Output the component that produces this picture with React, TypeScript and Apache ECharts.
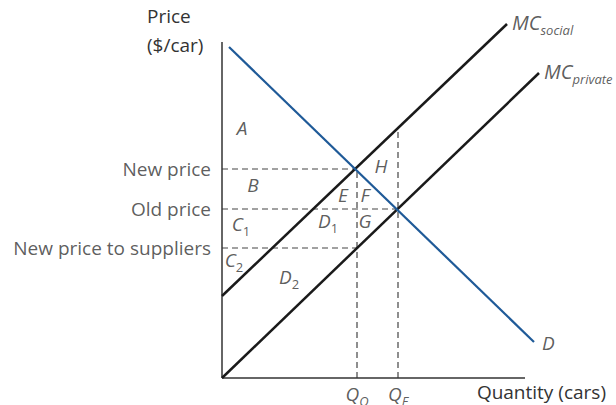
import React, { useEffect, useRef } from "react";
import * as echarts from "echarts";

// ---- data (units: horizontal = quantity, vertical = price) ----
const demandLine = [[7, 331], [312, 36]];
const mcSocialLine = [[0, 82], [285, 354]];
const mcPrivateLine = [[0, 0], [317, 305]];
const yAxisLine = [[0, 0], [0, 336]];
const xAxisLine = [[0, 0], [303, 0]];

const priceLabels = ["New price", "Old price", "New price to suppliers"];
const priceLevels = [209, 169, 130];
const priceDashEnd = [133, 176, 135];

const quantitySubs = ["O", "F"];
const quantityLevels = [135, 176];
const quantityDashTop = [209, 250];

const regionNames = ["A", "B", "C|1", "C|2", "D|2", "E", "F", "D|1", "G", "H"];
const regionPos = [
  [20, 248], [31, 191], [19, 152], [12, 116], [67, 99],
  [121, 181], [143, 181], [106, 155], [143, 155], [159, 210],
];

const FONT = "Open Sans";
const TXT = "#333";

export default function App() {
  const ref = useRef<HTMLDivElement>(null);
  useEffect(() => {
    if (!ref.current) return;
    const chart = echarts.init(ref.current, undefined, { renderer: "svg" });

    const solid = (data: number[][], color: string, width: number) => ({
      type: "line",
      data,
      symbol: "none",
      silent: true,
      clip: false,
      lineStyle: { color, width },
      z: 3,
    });
    const dashed = (data: number[][]) => ({
      type: "line",
      data,
      symbol: "none",
      silent: true,
      clip: false,
      lineStyle: { color: "#444", width: 1.2, type: [6, 4] },
      z: 2,
    });

    const rich = {
      m: { fontFamily: FONT, fontSize: 19, fontStyle: "italic", color: TXT, verticalAlign: "bottom", padding: [0, 0, 4, 0] },
      s: { fontFamily: FONT, fontSize: 13, fontStyle: "italic", color: TXT, verticalAlign: "bottom" },
      n: { fontFamily: FONT, fontSize: 13, color: TXT, verticalAlign: "bottom" },
      big: { fontFamily: FONT, fontSize: 20, fontStyle: "italic", color: TXT, verticalAlign: "bottom", padding: [0, 0, 4, 0] },
    };

    const series: any[] = [
      solid(yAxisLine, "#333", 1.5),
      solid(xAxisLine, "#333", 1.5),
    ];
    priceLevels.forEach((p, i) => series.push(dashed([[0, p], [priceDashEnd[i], p]])));
    quantityLevels.forEach((q, i) => series.push(dashed([[q, 0], [q, quantityDashTop[i]]])));
    series.push(solid(mcSocialLine, "#1a1a1a", 2.5));
    series.push(solid(mcPrivateLine, "#1a1a1a", 2.5));
    series.push(solid(demandLine, "#1f5a98", 2.2));

    // price level labels
    series.push({
      type: "scatter",
      symbolSize: 0,
      silent: true,
      clip: false,
      data: priceLevels.map((p, i) => ({ value: [0, p], name: priceLabels[i] })),
      label: {
        show: true,
        position: "left",
        distance: 11,
        formatter: (d: any) => d.name,
        fontFamily: FONT,
        fontSize: 19,
        color: TXT,
      },
    });
    // quantity labels
    series.push({
      type: "scatter",
      symbolSize: 0,
      silent: true,
      clip: false,
      data: quantityLevels.map((q, i) => ({ value: [q, 0], name: quantitySubs[i] })),
      label: {
        show: true,
        position: "bottom",
        distance: 6,
        formatter: (d: any) => `{m|Q}{s|${d.name}}`,
        rich,
      },
    });
    // region labels
    series.push({
      type: "scatter",
      symbolSize: 0,
      silent: true,
      clip: false,
      data: regionPos.map((p, i) => ({ value: p, name: regionNames[i] })),
      label: {
        show: true,
        position: "inside",
        formatter: (d: any) => {
          const [a, b] = d.name.split("|");
          return b ? `{m|${a}}{n|${b}}` : `{m|${a}}`;
        },
        rich,
      },
    });
    // curve labels
    series.push({
      type: "scatter",
      symbolSize: 0,
      silent: true,
      clip: false,
      data: [
        { value: mcSocialLine[1], name: "social" },
        { value: mcPrivateLine[1], name: "private" },
      ],
      label: {
        show: true,
        position: "right",
        distance: 5,
        formatter: (d: any) => `{big|MC}{s|${d.name}}`,
        rich,
      },
    });
    series.push({
      type: "scatter",
      symbolSize: 0,
      silent: true,
      clip: false,
      data: [{ value: demandLine[1], name: "D" }],
      label: {
        show: true,
        position: "right",
        distance: 8,
        offset: [0, 3],
        formatter: (d: any) => `{m|${d.name}}`,
        rich,
      },
    });

    chart.setOption({
      animation: false,
      grid: { left: 222, top: 18, width: 340, height: 360 },
      xAxis: { type: "value", min: 0, max: 340, show: false },
      yAxis: { type: "value", min: 0, max: 360, show: false },
      graphic: [
        {
          type: "text",
          left: 147,
          top: 6,
          style: { text: "Price", font: `19px '${FONT}'`, fill: TXT },
        },
        {
          type: "text",
          left: 147,
          top: 35,
          style: { text: "($/car)", font: `19px '${FONT}'`, fill: TXT },
        },
        {
          type: "text",
          right: 10,
          top: 382,
          style: { text: "Quantity (cars)", font: `19px '${FONT}'`, fill: TXT },
        },
      ],
      series,
    });
    return () => chart.dispose();
  }, []);
  return <div ref={ref} style={{ width: 616, height: 405, position: "absolute", left: 0, top: 0 }} />;
}
